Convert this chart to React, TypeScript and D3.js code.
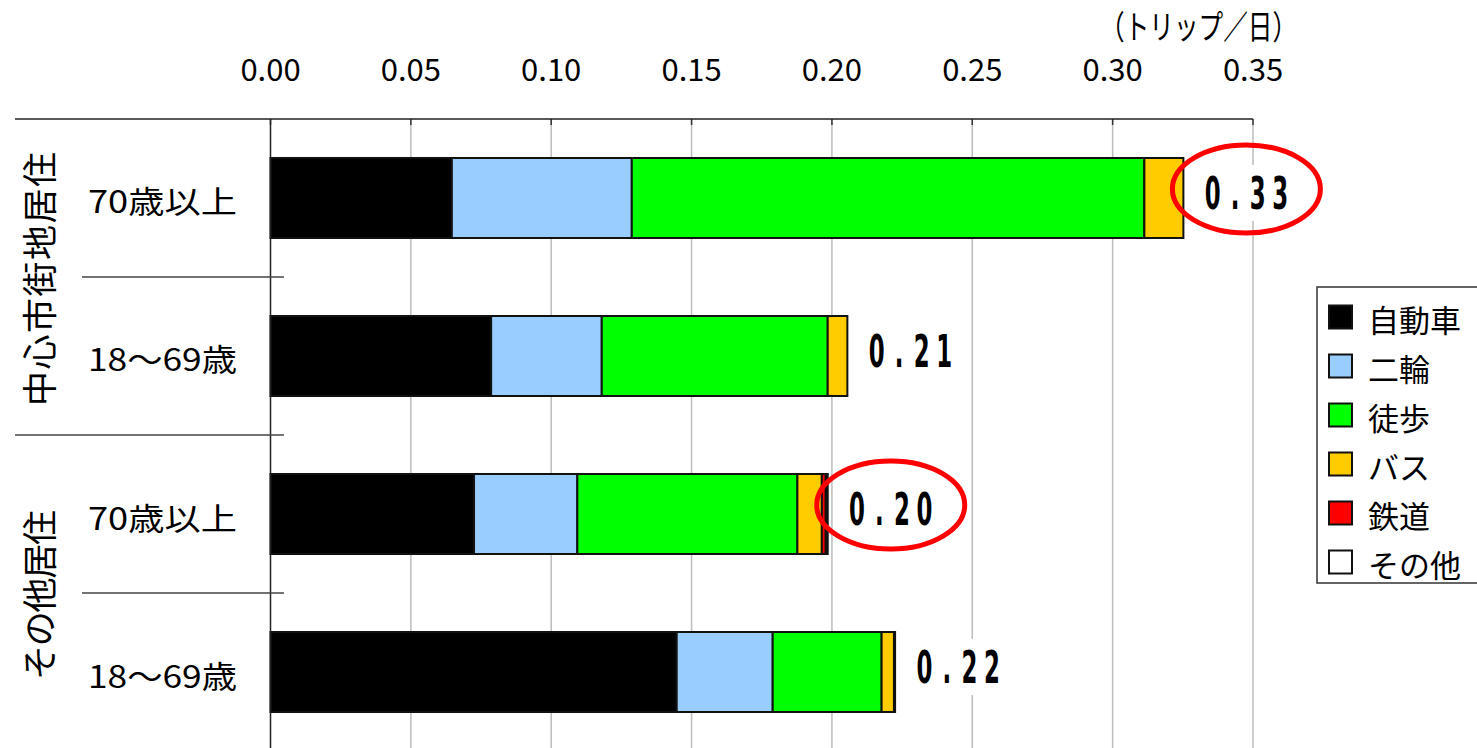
import React from "react";
import * as d3 from "d3";

// Trip rates per person per day, by mode, for each resident group
const groups = ["中心市街地居住", "その他居住"];
const rowLabels = ["70歳以上", "18～69歳", "70歳以上", "18～69歳"];
const rowGroup = [0, 0, 1, 1];
const modes = ["自動車", "二輪", "徒歩", "バス", "鉄道", "その他"];
const modeColors = ["#000000", "#99CCFF", "#00FF00", "#FFCC00", "#FF0000", "#FFFFFF"];

const car = [0.0646, 0.0786, 0.0725, 0.1447];
const twoWheel = [0.0641, 0.0394, 0.0368, 0.0342];
const walk = [0.1826, 0.0805, 0.0784, 0.0388];
const bus = [0.0139, 0.007, 0.0087, 0.0044];
const rail = [0, 0, 0.0014, 0];
const other = [0, 0, 0.0007, 0.0004];
const totalLabels = ["0.33", "0.21", "0.20", "0.22"];
const highlighted = [true, false, true, false];

const xTicks = [0, 0.05, 0.1, 0.15, 0.2, 0.25, 0.3, 0.35];
const unitLabel = "（トリップ／日）";

const W = 1477;
const H = 748;
const JP = '"Noto Sans CJK JP", "Noto Sans", sans-serif';
const NUM = '"DejaVu Sans", "Liberation Sans", sans-serif';

export default function App() {
  const rows = rowLabels.map((_, i) => i);
  const table = rows.map((i) => ({
    row: i,
    自動車: car[i],
    二輪: twoWheel[i],
    徒歩: walk[i],
    バス: bus[i],
    鉄道: rail[i],
    その他: other[i],
  }));
  const stacked = d3.stack<any>().keys(modes)(table);

  const top = 119;
  const x = d3.scaleLinear().domain([0, 0.35]).range([270.5, 1253]);
  const y = d3
    .scaleBand<number>()
    .domain(rows)
    .range([top, top + 158 * 4])
    .paddingInner(0.4937)
    .paddingOuter(0.2468);
  const bw = y.bandwidth();
  const gap = y.step() - bw;
  const totals = rows.map((i) => car[i] + twoWheel[i] + walk[i] + bus[i] + rail[i] + other[i]);

  const fmt = d3.format(".2f");
  const pitch = 22.5;
  const squeeze = 0.52;

  return (
    <svg width={W} height={H} style={{ position: "absolute", left: 0, top: 0, background: "#fff" }}>
      {/* gridlines */}
      {xTicks.slice(1).map((t) => (
        <line key={"g" + t} x1={x(t)} x2={x(t)} y1={top} y2={H} stroke="#bdbdbd" strokeWidth={1.5} />
      ))}
      {/* tick marks on top axis */}
      {xTicks.map((t) => (
        <line key={"tk" + t} x1={x(t)} x2={x(t)} y1={top} y2={top + 6} stroke="#333" strokeWidth={1.5} />
      ))}
      {/* top axis line */}
      <line x1={15} x2={x(0.35)} y1={top} y2={top} stroke="#222" strokeWidth={1.5} />
      {/* tick labels */}
      {xTicks.map((t) => (
        <text key={"tl" + t} x={x(t)} y={81} textAnchor="middle" fontFamily={JP} fontSize={31} fill="#000">
          {fmt(t)}
        </text>
      ))}
      <text x={1100} y={39} fontFamily={JP} fontSize={33} textLength={197} lengthAdjust="spacingAndGlyphs" fill="#000">
        {unitLabel}
      </text>

      {/* stacked bars */}
      {stacked.map((layer, li) =>
        layer.map((d, ri) => {
          const w = x(d[1]) - x(d[0]);
          if (w <= 0) return null;
          return (
            <rect
              key={`b${li}-${ri}`}
              x={x(d[0])}
              y={y(ri)!}
              width={w}
              height={bw}
              fill={modeColors[li]}
              stroke="#111"
              strokeWidth={2}
            />
          );
        })
      )}

      {/* left axis line */}
      <line x1={x(0)} x2={x(0)} y1={top} y2={H} stroke="#222" strokeWidth={1.5} />

      {/* row separators */}
      {rows.slice(0, -1).map((i) => {
        const yy = y(i)! + bw + gap / 2;
        const groupBreak = rowGroup[i] !== rowGroup[i + 1];
        return (
          <line key={"s" + i} x1={groupBreak ? 15 : 82} x2={284} y1={yy} y2={yy} stroke="#444" strokeWidth={1.3} />
        );
      })}

      {/* row labels */}
      {rows.map((i) => (
        <text
          key={"rl" + i}
          x={88}
          y={y(i)! + bw / 2 + 2}
          dominantBaseline="central"
          fontFamily={JP}
          fontSize={31}
          textLength={149}
          lengthAdjust="spacingAndGlyphs"
          fill="#000"
        >
          {rowLabels[i]}
        </text>
      ))}

      {/* group labels */}
      {groups.map((g, gi) => {
        const members = rows.filter((i) => rowGroup[i] === gi);
        const y0 = y(members[0])! - gap / 2;
        const y1 = y(members[members.length - 1])! + bw + gap / 2;
        const cy = (y0 + y1) / 2 + 2;
        const len = g.length * (gi === 0 ? 36.3 : 34);
        return (
          <text
            key={"gl" + gi}
            transform={`translate(37,${cy}) rotate(-90)`}
            textAnchor="middle"
            dominantBaseline="central"
            fontFamily={JP}
            fontSize={35}
            textLength={len}
            lengthAdjust="spacing"
            fill="#000"
          >
            {g}
          </text>
        );
      })}

      {/* total labels */}
      {rows.map((i) => {
        const lx = x(totals[i]) + 18;
        const cy = y(i)! + bw / 2 - 5;
        const s = totalLabels[i];
        const wTxt = s.length * pitch;
        return (
          <g key={"tot" + i}>
            <rect x={lx} y={cy - 28} width={wTxt} height={56} fill="#fff" />
            <text
              transform={`translate(${lx},${cy}) scale(${squeeze},1)`}
              dominantBaseline="central"
              fontFamily={NUM}
              fontWeight="bold"
              fontSize={44}
              textAnchor="middle"
              fill="#000"
            >
              {s.split("").map((c, k) => (
                <tspan key={k} x={(pitch / 2 + k * pitch) / squeeze}>
                  {c}
                </tspan>
              ))}
            </text>
            {highlighted[i] && (
              <ellipse
                cx={lx + wTxt / 2}
                cy={cy - 4}
                rx={74}
                ry={44}
                fill="none"
                stroke="#FF0000"
                strokeWidth={5}
              />
            )}
          </g>
        );
      })}

      {/* legend */}
      <rect x={1317} y={287} width={175} height={296} fill="#fff" stroke="#333" strokeWidth={1.5} />
      {modes.map((m, i) => {
        const cy = 317 + i * 49;
        return (
          <g key={"lg" + m}>
            <rect x={1329} y={cy - 11.5} width={23} height={23} fill={modeColors[i]} stroke="#111" strokeWidth={2} />
            <text x={1368} y={cy + 1} dominantBaseline="central" fontFamily={JP} fontSize={31} fill="#000">
              {m}
            </text>
          </g>
        );
      })}
    </svg>
  );
}
